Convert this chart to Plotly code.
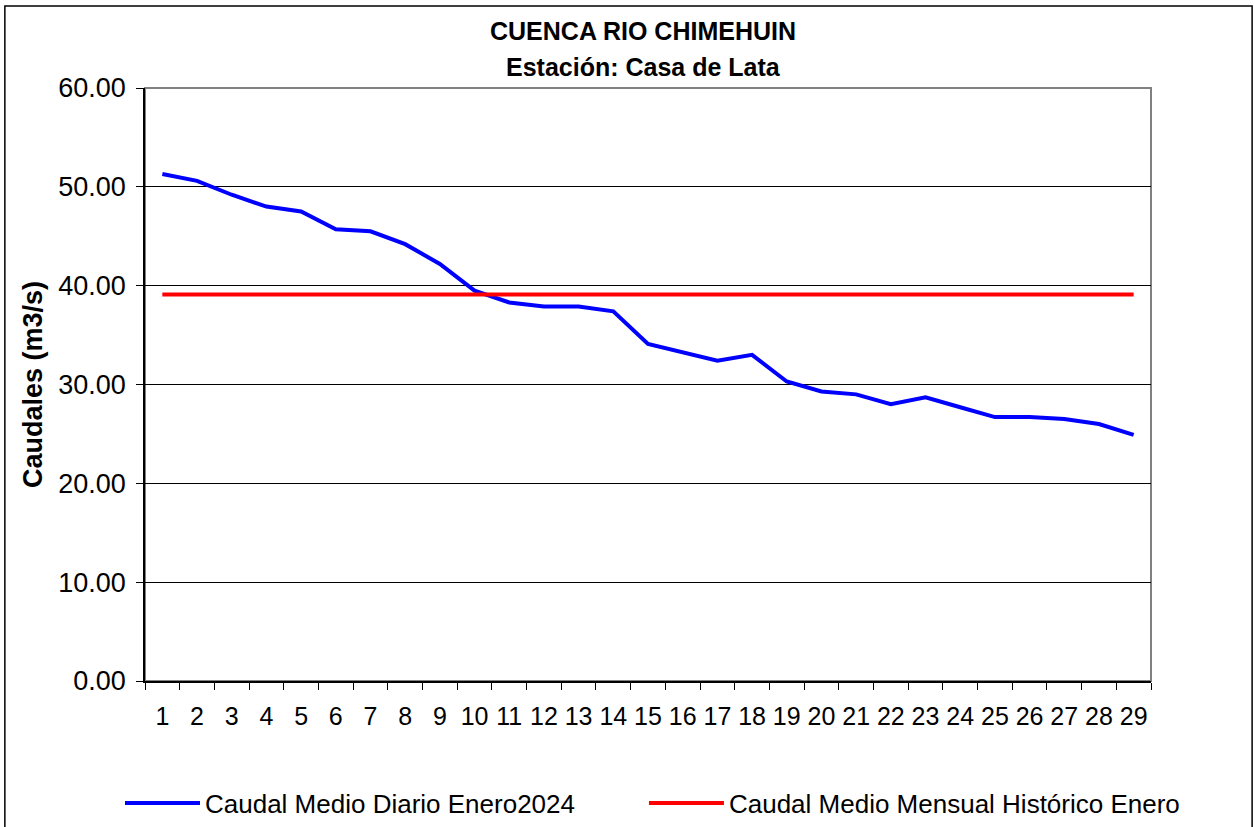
import plotly.graph_objects as go

days = [str(d) for d in range(1, 30)]
caudal_diario = [51.3, 50.6, 49.2, 48.0, 47.5, 45.7, 45.5, 44.2, 42.2, 39.5,
                 38.3, 37.9, 37.9, 37.4, 34.1, 33.3, 32.4, 33.0, 30.3, 29.3,
                 29.0, 28.0, 28.7, 27.7, 26.7, 26.7, 26.5, 26.0, 24.9]
caudal_historico = [39.1] * 29
y_ticks = [0, 10, 20, 30, 40, 50, 60]
y_tick_labels = ["0.00", "10.00", "20.00", "30.00", "40.00", "50.00", "60.00"]
title_line1 = "CUENCA RIO CHIMEHUIN"
title_line2 = "Estación: Casa de Lata"

FONT = "Liberation Sans, Arial, sans-serif"

fig = go.Figure()
fig.add_trace(go.Scatter(x=days, y=caudal_diario, mode="lines",
                         name="Caudal Medio Diario Enero2024", legend="legend",
                         line=dict(color="#0000FF", width=4)))
fig.add_trace(go.Scatter(x=days, y=caudal_historico, mode="lines",
                         name="Caudal Medio Mensual Histórico Enero", legend="legend2",
                         line=dict(color="#FF0000", width=4)))

legend_common = dict(orientation="h", xanchor="left", xref="container",
                     yref="container", y=0.029, yanchor="middle",
                     font=dict(family=FONT, size=26), itemwidth=75,
                     bgcolor="rgba(0,0,0,0)")

fig.update_layout(
    width=1255, height=827,
    margin=dict(l=145, r=104, t=88, b=146, autoexpand=False),
    paper_bgcolor="white", plot_bgcolor="white",
    font=dict(family=FONT, color="black", size=24),
    showlegend=True,
    legend=dict(x=0.0956, **legend_common),
    legend2=dict(x=0.5131, **legend_common),
)

fig.add_annotation(text="<b>" + title_line1 + "</b>", xref="paper", yref="paper",
                   x=0.4955, y=1.0961, xanchor="center", yanchor="middle",
                   showarrow=False, font=dict(family=FONT, size=25))
fig.add_annotation(text="<b>" + title_line2 + "</b>", xref="paper", yref="paper",
                   x=0.4955, y=1.0354, xanchor="center", yanchor="middle",
                   showarrow=False, font=dict(family=FONT, size=25))

fig.update_xaxes(type="category", tickson="boundaries", ticks="outside", ticklen=7,
                 tickcolor="black", showline=True, linecolor="black", linewidth=1.5,
                 showgrid=False, tickfont=dict(size=25), range=[-0.5, 28.5],
                 zeroline=False, ticklabelstandoff=12, tickangle=0, automargin=False)
fig.update_yaxes(range=[0, 60], tickvals=y_ticks, ticktext=y_tick_labels,
                 ticks="outside", ticklen=7, tickcolor="black",
                 showline=True, linecolor="black", linewidth=1.5,
                 showgrid=True, gridcolor="black", gridwidth=1,
                 tickfont=dict(size=27), zeroline=False, ticklabelstandoff=5,
                 automargin=False,
                 title=dict(text="<b>Caudales (m3/s)</b>", font=dict(size=27), standoff=8))

# plot-area border (gray) and outer chart border (black)
fig.add_shape(type="rect", xref="paper", yref="paper", x0=0, x1=1, y0=0, y1=1,
              line=dict(color="#808080", width=2), layer="below")
fig.add_shape(type="rect", xref="paper", yref="paper", x0=-0.1393, x1=1.1005,
              y0=-0.3, y1=1.1383, line=dict(color="black", width=1.5))

fig.write_html("out.html", config={"displayModeBar": False},
               post_script="document.body.style.margin='0px';document.body.style.overflow='hidden';")
